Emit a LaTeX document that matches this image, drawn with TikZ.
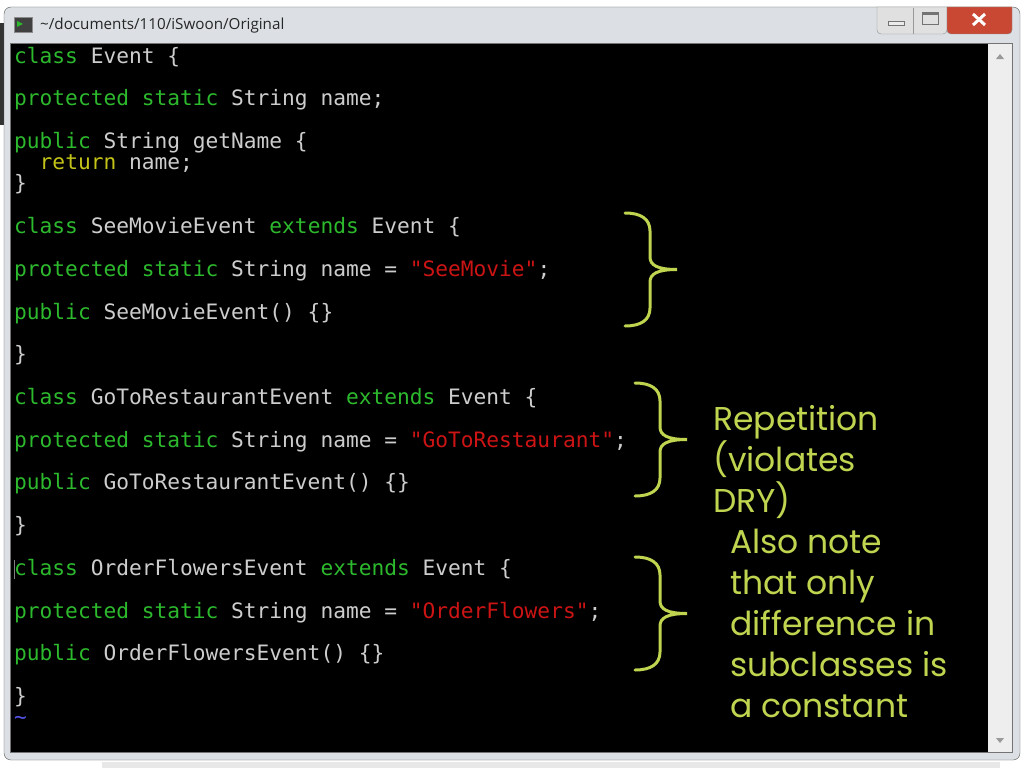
\documentclass[tikz,border=0pt]{standalone}
\usepackage{fontspec}
\setmonofont{DejaVu Sans Mono}
\newfontfamily\notefont{Poppins}
\newfontfamily\titlefont{Open Sans}

\definecolor{kwgreen}{RGB}{45,185,45}
\definecolor{plaingray}{RGB}{205,205,205}
\definecolor{strred}{RGB}{205,20,20}
\definecolor{retyellow}{RGB}{195,195,25}
\definecolor{tildeblue}{RGB}{85,85,235}
\definecolor{noteyellow}{RGB}{192,212,80}
\definecolor{framegray}{RGB}{220,224,228}
\definecolor{scrollgray}{RGB}{238,238,238}
\definecolor{closered}{RGB}{200,72,52}

\newcommand\kw[1]{\textcolor{kwgreen}{#1}}
\newcommand\strlit[1]{\textcolor{strred}{#1}}
\newcommand\rw[1]{\textcolor{retyellow}{#1}}

\begin{document}
\begin{tikzpicture}[x=1pt,y=-1pt,
	codeline/.style={anchor=west, inner sep=0pt, text=plaingray, text height=15pt, text depth=4pt,
		font=\ttfamily\fontsize{21.2}{21.2}\selectfont},
	note/.style={anchor=north west, inner sep=0pt, align=left, text=noteyellow,
		font=\notefont\fontsize{33}{41}\selectfont},
	bracecurve/.style={draw=noteyellow, line width=3pt, line cap=round}]
	
	\useasboundingbox (0,0) rectangle (1024,768);
	\fill[white] (0,0) rectangle (1024,768);
	\fill[black!80] (0,23) rectangle (4,125);
	\fill[black!9] (102,762) rectangle (1000,768);
	
	% window frame
	\draw[fill=framegray, draw=black!65, rounded corners=7pt] (4,7) rectangle (1020,760);
	\draw[fill=black!75, draw=black!45] (14,17) rectangle (32,32);
	\fill[kwgreen] (17,21) -- (23,24) -- (17,27) -- cycle;
	\node[anchor=west, inner sep=0pt, font=\titlefont\fontsize{15.2}{15.2}\selectfont, text=black!85] (title) at (40,26) {\textasciitilde/documents/110/iSwoon/Original};
	
	\draw[fill=black!12, draw=black!45, rounded corners=4pt] (877,7) -- (877,34) -- (947,34) [sharp corners] -- (947,7) -- cycle;
	\draw[fill=closered, draw=black!45, rounded corners=4pt] (947,7) -- (947,34) -- (1012,34) [sharp corners] -- (1012,7) -- cycle;
	\draw[black!40] (913,8) -- (913,34);
	\draw[fill=white!92!black, draw=black!55] (888,21) rectangle (904,25);
	\draw[draw=black!55, line width=1pt] (922,13) rectangle (938,25);
	\draw[black!55, line width=2pt] (922,14) -- (938,14);
	\draw[white, line width=3pt] (973,14) -- (985,25);
	\draw[white, line width=3pt] (985,14) -- (973,25);
	
	% terminal and scrollbar
	\draw[fill=black, draw=black!55] (10,43) rectangle (1012,752);
	\fill[scrollgray] (988,44) rectangle (1011.5,751.5);
	\fill[black!40] (996,59) -- (1004,59) -- (1000,54) -- cycle;
	\fill[black!40] (996,738) -- (1004,738) -- (1000,743) -- cycle;
	
	% code
	\node[codeline] (ln0) at (14,58) {\kw{class} Event \{};
	\node[codeline] (ln2) at (14,100) {\kw{protected static} String name;};
	\node[codeline] (ln4) at (14,143) {\kw{public} String getName \{};
	\node[codeline] (ln5) at (14,164) {\hphantom{xx}\rw{return} name;};
	\node[codeline] (ln6) at (14,185) {\}};
	\node[codeline] (ln8) at (14,228) {\kw{class} SeeMovieEvent \kw{extends} Event \{};
	\node[codeline] (ln10) at (14,271) {\kw{protected static} String name = \strlit{"SeeMovie"};};
	\node[codeline] (ln12) at (14,314) {\kw{public} SeeMovieEvent() \{\}};
	\node[codeline] (ln14) at (14,356) {\}};
	\node[codeline] (ln16) at (14,399) {\kw{class} GoToRestaurantEvent \kw{extends} Event \{};
	\node[codeline] (ln18) at (14,442) {\kw{protected static} String name = \strlit{"GoToRestaurant"};};
	\node[codeline] (ln20) at (14,484) {\kw{public} GoToRestaurantEvent() \{\}};
	\node[codeline] (ln22) at (14,527) {\}};
	\node[codeline] (ln24) at (14,570) {\kw{class} OrderFlowersEvent \kw{extends} Event \{};
	\node[codeline] (ln26) at (14,613) {\kw{protected static} String name = \strlit{"OrderFlowers"};};
	\node[codeline] (ln28) at (14,655) {\kw{public} OrderFlowersEvent() \{\}};
	\node[codeline] (ln30) at (14,698) {\}};
	\node[codeline, text=tildeblue] (ln31) at (14,719) {\textasciitilde};
	\draw[black!50, line width=1pt] (14,560) -- (14,579);
	
	% braces
	\foreach \bx/\by in {625/213, 635/383, 635/557}
	{
		\begin{scope}[shift={(\bx,\by)}]
			\path[bracecurve] (0,0) .. controls (16,0) and (25,6) .. (25,18) -- (25,44)
				.. controls (25,52) and (32,56.5) .. (52,56.5)
				.. controls (32,56.5) and (25,61) .. (25,69) -- (25,95)
				.. controls (25,107) and (16,113) .. (0,113);
		\end{scope}
	}
	
	\node[note] (repnote) at (713,405) {Repetition\\(violates\\DRY)};
	\node[note] (constnote) at (730,529) {Also note\\that only\\difference in\\subclasses is\\a constant};
	
\end{tikzpicture}
\end{document}
